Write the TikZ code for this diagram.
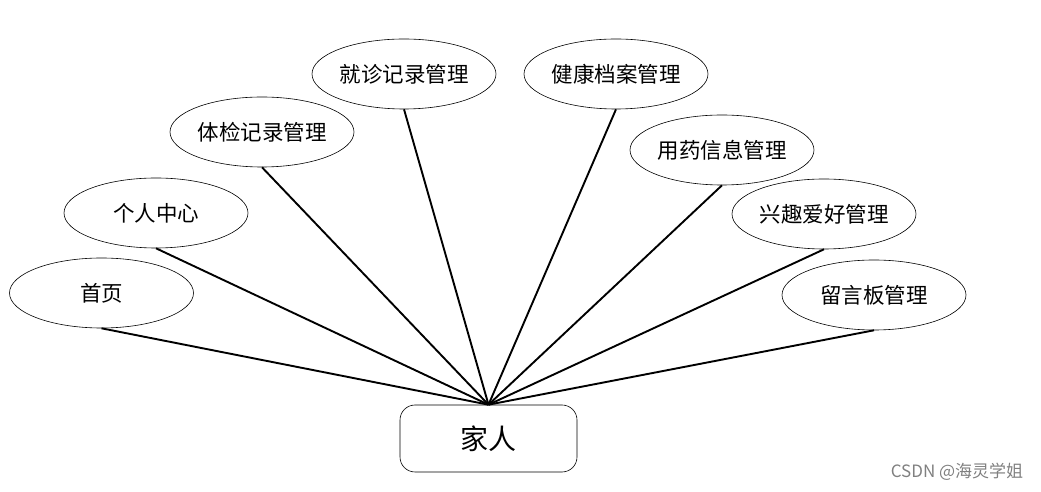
\documentclass[tikz,border=0pt]{standalone}
\usepackage{fontspec}
\setmainfont{Noto Sans CJK SC}
\usetikzlibrary{shapes.geometric}
\tikzset{
	elip/.style={draw,ellipse,line width=0.6pt,minimum width=184pt,minimum height=70pt,inner sep=0pt,font=\fontsize{21.5}{23}\selectfont},
	hop/.style={draw,rounded corners=15pt,line width=0.6pt,minimum width=177pt,minimum height=67pt,font=\fontsize{28}{30}\selectfont},
	lien/.style={line width=1.9pt}
}
\begin{document}
\begin{tikzpicture}[x=1pt,y=1pt]
			\useasboundingbox (0,0) rectangle (1041,492);
			\node[hop] (goc) at (488.5,53.5) {家人};
			\foreach \ten/\x/\y/\t in {tp/101.5/199/首页,ca/156/279/个人中心,tk/262/360/体检记录管理,
				kb/404/418/就诊记录管理,sk/616/418/健康档案管理,dt/722/342/用药信息管理,
				st/824/278/兴趣爱好管理,bl/874/197/留言板管理}{
				\node[elip] (\ten) at (\x,\y) {\t};
				\draw[lien] (\ten.south)--(goc.north);
			}
			\node[text=gray,font=\fontsize{17}{19}\selectfont] (wm) at (957,20) {CSDN @海灵学姐};
	\end{tikzpicture}
\end{document}
